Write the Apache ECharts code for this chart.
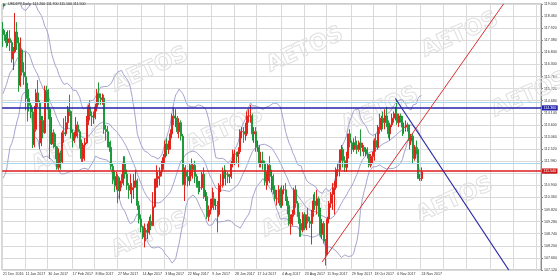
<!DOCTYPE html>
<html><head><meta charset="utf-8">
<script src="https://cdn.jsdelivr.net/npm/echarts@6/dist/echarts.min.js"></script>
<style>html,body{margin:0;padding:0;background:#fff}#c{width:560px;height:280px}</style>
</head><body><div id="c"></div>
<script>
// trading days per month (broker calendar)
const dec16 = [21,22,23,27,28,29,30];
const jan17 = [3,4,5,6,9,10,11,12,13,16,17,18,19,20,23,24,25,26,27,30,31];
const feb17 = [1,2,3,6,7,8,9,10,13,14,15,16,17,20,21,22,23,24,27,28];
const mar17 = [1,2,3,6,7,8,9,10,13,14,15,16,17,20,21,22,23,24,27,28,29,30,31];
const apr17 = [3,4,5,6,7,10,11,12,13,14,17,18,19,20,21,24,25,26,27,28];
const may17 = [1,2,3,4,5,8,9,10,11,12,15,16,17,18,19,22,23,24,25,26,29,30,31];
const jun17 = [1,2,5,6,7,8,9,12,13,14,15,16,19,20,21,22,23,26,27,28,29,30];
const jul17 = [3,4,5,6,7,10,11,12,13,14,17,18,19,20,21,24,25,26,27,28,31];
const aug17 = [1,2,3,4,7,8,9,10,11,14,15,16,17,18,21,22,23,24,25,28,29,30,31];
const sep17 = [1,4,5,6,7,8,11,12,13,14,15,18,19,20,21,22,25,26,27,28,29];
const oct17 = [2,3,4,5,6,9,10,11,12,13,16,17,18,19,20,23,24,25,26,27,30,31];
const nov17 = [1,2,3,6,7,8,9,10,13,14,15,16,17,20,21,22,23,24];

const opens = [
117.88,117.63,117.55,117.27,117.45,117.28,116.55,
116.87,117.75,117.26,115.38,116.95,115.95,115.75,115.38,114.78,114.48,114.18,112.72,113.40,115.03,114.60,112.80,113.80,113.25,115.15,115.10,114.30,
112.75,113.25,112.80,112.62,111.70,112.35,111.95,113.25,113.20,113.70,114.30,114.20,113.25,112.90,113.10,113.60,113.30,112.65,112.10,112.70,
112.80,113.70,114.40,114.00,113.95,113.95,114.40,115.00,114.80,114.75,114.80,113.40,113.30,112.70,112.60,111.75,111.15,110.90,111.30,110.65,111.10,111.00,111.90,
111.40,110.90,110.70,110.70,110.80,111.10,111.10,110.00,109.40,109.05,108.60,108.90,108.80,108.90,109.30,109.10,109.95,111.05,111.20,111.30,
111.50,111.90,112.15,112.75,112.50,112.70,113.20,114.00,113.90,113.90,113.30,113.70,113.10,110.95,111.50,111.30,111.10,111.80,111.60,111.80,111.30,110.90,110.80,
110.80,111.40,110.40,110.40,109.50,109.80,110.00,110.30,110.00,110.00,109.60,110.90,110.90,111.50,111.40,111.40,111.30,111.30,111.90,112.30,112.30,112.20,
112.40,113.30,113.30,113.20,113.20,114.00,114.00,114.00,113.20,113.30,112.60,112.60,111.90,112.00,111.90,111.10,111.10,111.80,111.30,111.30,110.70,
110.30,110.30,110.70,110.00,110.70,110.70,110.30,110.00,109.20,109.20,109.60,110.70,110.10,109.60,109.20,108.90,109.60,109.00,109.50,109.30,109.20,109.70,110.20,
110.00,110.30,109.70,108.70,109.20,108.40,107.80,109.40,110.10,110.50,110.50,110.80,111.60,111.60,112.30,112.50,112.00,111.70,112.20,113.20,112.80,
112.50,112.80,112.70,112.50,112.80,112.60,112.60,112.40,112.50,112.30,111.80,112.20,112.20,112.90,112.60,113.50,113.40,113.90,113.70,114.00,113.70,113.20,
113.60,113.90,114.00,114.10,113.70,114.00,113.90,113.50,113.50,113.60,113.50,112.90,113.10,112.10,112.60,112.50,111.20,111.20];
const highs = [
118.20,117.84,117.75,117.82,117.83,117.38,117.08,
118.60,118.19,117.52,117.50,117.02,116.40,116.87,115.48,115.20,114.60,114.35,114.45,115.20,115.60,114.70,114.00,114.00,115.35,115.35,115.20,114.40,
113.95,113.40,113.20,112.65,112.55,112.45,113.35,113.90,114.00,114.45,114.95,114.25,113.40,113.30,113.95,113.75,113.40,112.95,112.80,113.00,
114.00,114.50,114.70,114.20,114.20,114.55,115.20,115.50,115.00,115.00,114.95,113.60,113.55,112.85,112.90,111.90,111.55,111.50,111.40,111.25,111.40,112.20,112.20,
111.60,111.00,111.40,111.00,111.40,111.60,111.20,110.20,109.60,109.10,109.20,109.00,109.20,109.50,109.60,110.60,111.20,111.80,111.50,111.70,
112.00,112.30,112.90,113.00,112.90,113.40,114.10,114.37,114.30,114.00,113.90,113.80,113.20,111.70,111.80,111.60,111.90,112.10,111.90,112.00,111.40,111.10,111.10,
111.50,111.70,110.70,110.60,110.00,110.30,110.80,110.60,110.30,110.20,111.00,111.40,111.70,111.80,111.60,111.50,111.40,112.00,112.50,112.50,112.40,112.60,
113.40,113.50,113.50,113.70,114.20,114.30,114.49,114.10,113.50,113.50,112.90,112.70,112.40,112.40,112.00,111.50,111.90,112.20,111.60,111.40,110.90,
110.70,110.90,110.80,110.90,110.90,111.00,110.40,110.20,109.60,109.80,110.80,110.90,110.20,109.70,109.40,109.70,109.70,109.60,109.90,109.50,109.80,110.50,110.60,
110.70,110.40,109.90,109.40,109.30,108.50,109.50,110.20,110.60,111.00,111.10,111.70,111.90,112.50,112.70,112.60,112.20,112.40,113.20,113.40,112.90,
113.00,113.10,112.90,112.90,113.40,112.80,112.70,112.60,112.60,112.30,112.30,112.40,113.00,113.20,113.60,114.10,114.00,114.20,114.30,114.40,113.80,113.70,
114.10,114.20,114.40,114.73,114.10,114.10,114.00,113.70,113.80,113.70,113.60,113.20,113.20,112.70,112.90,112.60,111.40,111.70];
const lows = [
117.08,117.35,117.05,117.12,116.90,116.38,116.05,
116.80,116.95,115.08,115.30,115.80,115.39,114.25,113.75,114.20,113.90,112.57,112.60,113.30,114.40,112.52,112.65,113.00,113.20,114.60,113.85,112.08,
112.70,112.55,112.08,111.60,111.60,111.60,111.90,112.80,113.10,113.40,114.00,113.00,112.60,112.80,113.00,113.00,112.55,111.95,111.95,112.00,
112.75,113.60,113.80,113.55,113.65,113.85,114.20,114.50,114.50,114.50,113.20,112.90,112.60,112.40,111.60,110.95,110.60,110.70,110.10,110.30,110.80,110.90,111.20,
110.70,110.30,110.50,110.10,110.30,110.80,109.80,109.20,108.80,108.50,108.13,108.40,108.50,108.70,108.90,109.10,109.90,110.80,110.80,110.90,
111.30,111.60,111.90,112.20,112.30,112.50,113.00,113.60,113.50,113.20,113.00,112.90,110.90,110.20,110.90,110.85,110.90,111.30,111.20,111.00,110.80,110.50,110.60,
110.70,110.30,110.20,109.40,109.30,109.60,109.90,109.80,109.80,108.80,109.50,110.60,110.80,111.20,110.90,111.00,111.00,111.20,111.70,111.80,111.90,111.70,
112.30,113.00,112.80,112.90,113.10,113.70,113.70,112.90,112.80,112.40,112.40,111.70,111.70,111.60,110.90,110.70,110.90,111.00,110.60,110.50,110.20,
110.00,110.10,109.90,109.90,110.50,110.20,109.60,109.10,108.70,109.10,109.50,109.90,109.50,108.60,108.60,108.80,108.90,108.90,109.20,109.00,108.26,109.50,109.80,
109.60,109.50,108.60,108.50,108.30,107.32,107.80,109.20,109.90,109.80,109.60,110.70,111.30,111.30,112.00,111.70,111.50,111.50,112.10,112.60,112.30,
112.40,112.50,112.30,112.40,112.20,112.40,112.20,112.20,112.10,111.70,111.70,111.90,112.00,112.40,112.50,113.20,113.30,113.40,113.40,113.50,113.00,112.90,
113.50,113.70,113.80,113.60,113.50,113.70,113.10,113.20,113.30,113.30,112.50,112.70,111.90,112.00,112.30,111.20,111.10,111.10];
const closes = [
117.63,117.55,117.27,117.45,117.28,116.55,116.87,
117.75,117.26,115.38,116.95,115.95,115.75,115.38,114.78,114.48,114.18,112.72,113.40,115.03,114.60,112.80,113.80,113.25,115.15,115.10,114.30,112.75,
113.25,112.80,112.62,111.70,112.35,111.95,113.25,113.20,113.70,114.30,114.20,113.25,112.90,113.10,113.60,113.30,112.65,112.10,112.70,112.80,
113.70,114.40,114.00,113.95,113.95,114.40,115.00,114.80,114.75,114.80,113.40,113.30,112.70,112.60,111.75,111.15,110.90,111.30,110.65,111.10,111.00,111.90,111.40,
110.90,110.70,110.70,110.80,111.10,111.10,110.00,109.40,109.05,108.60,108.90,108.80,108.90,109.30,109.10,109.95,111.05,111.20,111.30,111.50,
111.90,112.15,112.75,112.50,112.70,113.20,114.00,113.90,113.90,113.30,113.70,113.10,110.95,111.50,111.30,111.10,111.80,111.60,111.80,111.30,110.90,110.80,110.80,
111.40,110.40,110.40,109.50,109.80,110.00,110.30,110.00,110.00,109.60,110.90,110.90,111.50,111.40,111.40,111.30,111.30,111.90,112.30,112.30,112.20,112.40,
113.30,113.30,113.20,113.20,114.00,114.00,114.00,113.20,113.30,112.60,112.60,111.90,112.00,111.90,111.10,111.10,111.80,111.30,111.30,110.70,110.30,
110.30,110.70,110.00,110.70,110.70,110.30,110.00,109.20,109.20,109.60,110.70,110.10,109.60,109.20,108.90,109.60,109.00,109.50,109.30,109.20,109.70,110.20,110.00,
110.30,109.70,108.70,109.20,108.40,107.80,109.40,110.10,110.50,110.50,110.80,111.60,111.60,112.30,112.50,112.00,111.70,112.20,113.20,112.80,112.50,
112.80,112.70,112.50,112.80,112.60,112.60,112.40,112.50,112.30,111.80,112.20,112.20,112.90,112.60,113.50,113.40,113.90,113.70,114.00,113.70,113.20,113.60,
113.90,114.00,114.10,113.70,114.00,113.90,113.50,113.50,113.60,113.50,112.90,113.10,112.10,112.60,112.50,111.20,111.20,111.50];
// closes of the 19 sessions before the first bar (needed by the 20-period bands)
const priorCloses = [113.34,113.20,111.95,112.44,114.47,114.05,113.50,114.10,113.98,113.79,114.10,115.12,115.18,115.05,117.05,118.18,117.93,116.97,117.82];

// price-axis tick labels: 107.120 ... 119.000
const yMin = 107.12, yMax = 119.00, yStep = 0.54;
// bars that carry a date label / vertical grid line
const labelIdx = [0,13,26,40,53,66,80,93,106,120,133,146,160,173,186,200,213,226,240];
const gridIdx  = labelIdx.concat([253,266,280,293,306]);
// drawn objects
const blueLevel = 114.36, redLevel = 111.54;
const lightLevels = [114.62, 111.90];
const redTrend  = [[182.6, 107.48], [287.0, 119.0]];
const blueTrend = [[225.0, 114.78], [290.0, 107.12]];
const futureSlots = 68;

const mon = [['Dec',2016,dec16],['Jan',2017,jan17],['Feb',2017,feb17],['Mar',2017,mar17],['Apr',2017,apr17],['May',2017,may17],
  ['Jun',2017,jun17],['Jul',2017,jul17],['Aug',2017,aug17],['Sep',2017,sep17],['Oct',2017,oct17],['Nov',2017,nov17]];
const cats = [];
mon.forEach(([m,y,days]) => days.forEach(d => cats.push(d + ' ' + m + ' ' + y)));
const nBars = cats.length;
for (let k = 1; k <= futureSlots; k++) cats.push('+' + k);

const ohlc = closes.map((c,i) => [opens[i], c, lows[i], highs[i]]);
// Bollinger bands (20, 2)
const all = priorCloses.concat(closes);
const up = [], mid = [], lo = [];
for (let i = 0; i < nBars; i++) {
  const w = all.slice(i, i + 20);
  const m = w.reduce((a,b)=>a+b,0) / w.length;
  const sd = Math.sqrt(w.reduce((a,b)=>a+(b-m)*(b-m),0) / w.length);
  mid.push(+m.toFixed(4)); up.push(+(m+2*sd).toFixed(4)); lo.push(+(m-2*sd).toFixed(4));
}
const labelSet = new Set(labelIdx), gridSet = new Set(gridIdx);
const bandStyle = {type:'line', symbol:'none', silent:true, animation:false, lineStyle:{color:'#a4a4d0', width:1}, z:3};

const wm = [];
[[150,70],[305,50],[460,35],[70,150],[225,130],[380,110],[530,95],[150,235],[300,215],[455,200]].forEach(([x,y]) => {
  wm.push({type:'text', x:x, y:y, rotation:0.42, z:1, silent:true,
    style:{text:'AETOS', font:'bold 22px "DejaVu Sans"', fill:'rgba(255,255,255,0)', stroke:'#e0e0e0', lineWidth:1, align:'center', verticalAlign:'middle'}});
});
const last = nBars - 1;
wm.push({type:'text', left:8, top:2, z:10, silent:true,
  style:{text:'USDJPY,Daily  ' + [opens[last],highs[last],lows[last],closes[last]].map(v=>v.toFixed(3)).join(' '), font:'3.6px "Liberation Sans"', fill:'#222'}});
wm.push({type:'polygon', z:10, silent:true, shape:{points:[[3,3],[6,5],[3,7]]}, style:{fill:'#2a8a3a'}});

const chart = echarts.init(document.getElementById('c'), null, {renderer:'canvas'});
chart.setOption({
  animation:false,
  backgroundColor:'#ffffff',
  grid:{left:2, right:17, top:4, bottom:10, show:true, borderColor:'#9a9a9a', borderWidth:1},
  xAxis:{type:'category', data:cats, boundaryGap:true,
    axisLine:{show:false}, axisTick:{show:false},
    axisLabel:{interval:(i)=>labelSet.has(i), align:'left', fontSize:3.6, color:'#333', margin:2, fontFamily:'Liberation Sans', hideOverlap:false},
    splitLine:{show:true, interval:(i)=>gridSet.has(i), lineStyle:{color:'#d9d9d9', width:1}}},
  yAxis:{type:'value', position:'right', min:yMin, max:yMax, interval:yStep, scale:true,
    axisLine:{show:true, lineStyle:{color:'#8a8a8a'}}, axisTick:{show:true, length:2, lineStyle:{color:'#8a8a8a'}},
    axisLabel:{fontSize:3.6, color:'#333', margin:3, fontFamily:'Liberation Sans', formatter:v=>v.toFixed(3)},
    splitLine:{show:true, lineStyle:{color:'#d9d9d9', width:1}}},
  graphic:wm,
  series:[
    Object.assign({name:'upper', data:up}, bandStyle),
    Object.assign({name:'mid', data:mid}, bandStyle),
    Object.assign({name:'lower', data:lo}, bandStyle),
    {type:'candlestick', name:'USDJPY', data:ohlc, barWidth:1.5, z:4, animation:false,
      itemStyle:{color:'#e3241c', color0:'#1e9a3c', borderColor:'#e3241c', borderColor0:'#1e9a3c', borderWidth:1},
      markLine:{symbol:['none','none'], silent:true, animation:false, precision:3,
        data:[
          {yAxis:lightLevels[0], lineStyle:{color:'#a8d8ee', width:1, type:'solid'}, label:{show:false}},
          {yAxis:lightLevels[1], lineStyle:{color:'#a8d8ee', width:1, type:'solid'}, label:{show:false}},
          {yAxis:blueLevel, lineStyle:{color:'#2222aa', width:1.6, type:'solid'},
            label:{show:true, position:'end', distance:1, formatter:blueLevel.toFixed(3), color:'#fff', backgroundColor:'#2222aa', fontSize:3.6, padding:[0.6,1.5]}},
          {yAxis:redLevel, lineStyle:{color:'#dd1d1d', width:1.6, type:'solid'},
            label:{show:true, position:'end', distance:1, formatter:redLevel.toFixed(3), color:'#fff', backgroundColor:'#cc1a1a', fontSize:3.6, padding:[0.6,1.5]}},
          [{coord:redTrend[0], lineStyle:{color:'#d83030', width:1, type:'solid'}, label:{show:false}}, {coord:redTrend[1]}],
          [{coord:blueTrend[0], lineStyle:{color:'#2a2aa8', width:1.2, type:'solid'}, label:{show:false}}, {coord:blueTrend[1]}]
        ]}}
  ]
});
</script></body></html>
